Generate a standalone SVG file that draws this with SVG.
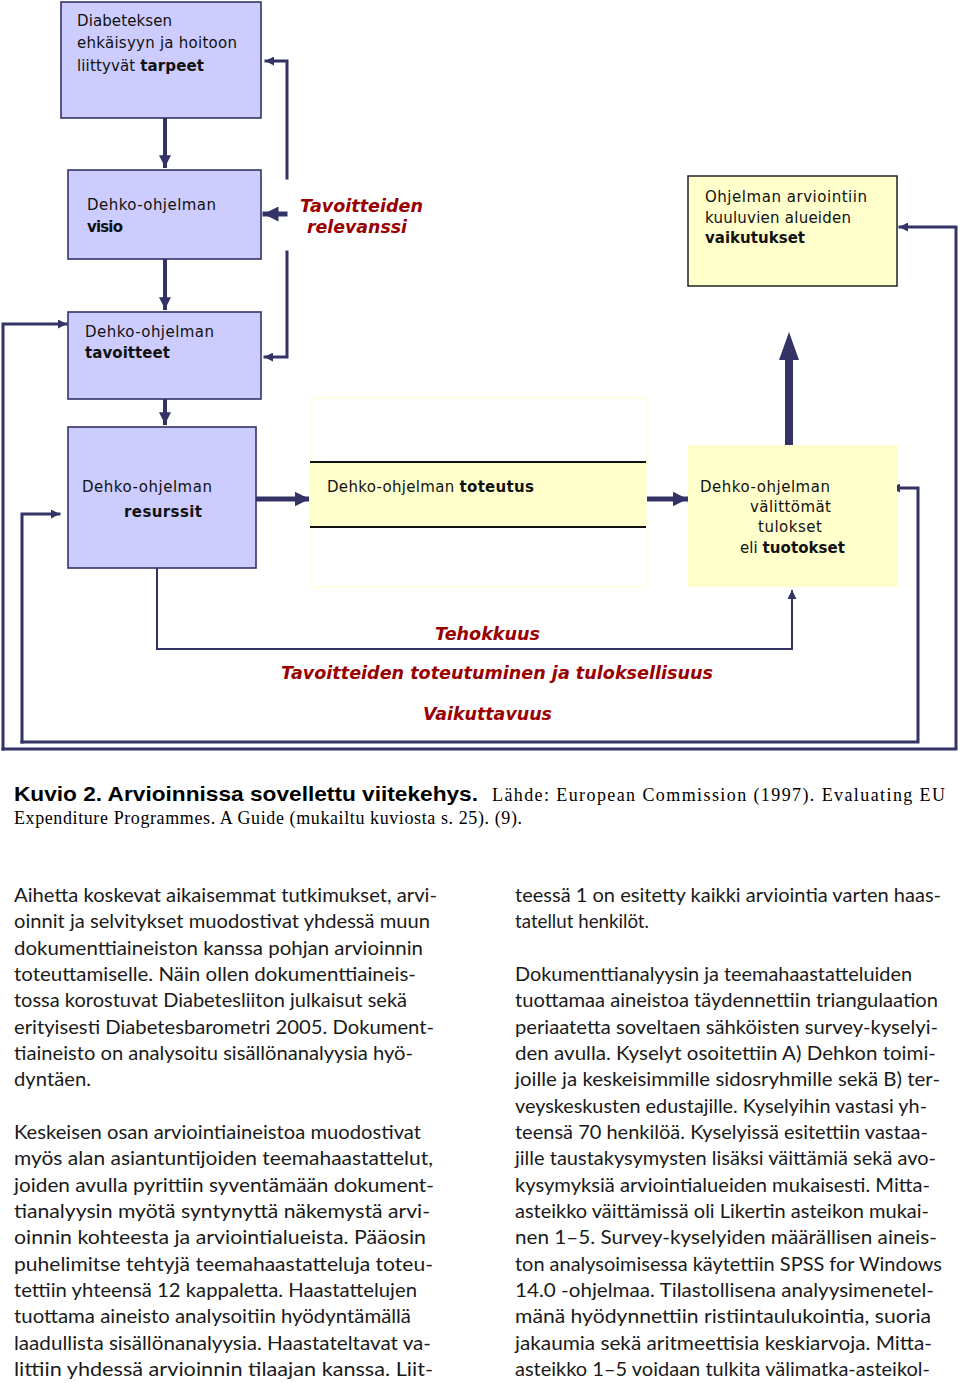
<svg xmlns="http://www.w3.org/2000/svg" width="960" height="1383" viewBox="0 0 960 1383">
<style>
.bx{fill:#ccccff;stroke:#333366;stroke-width:1.6}
.yl{fill:#ffffcc}
.c{fill:none;stroke:#333366;stroke-linecap:square}
.t{font-family:"DejaVu Sans",sans-serif;font-size:15px;fill:#111}
.b{font-weight:bold}
.r{font-family:"DejaVu Sans",sans-serif;font-size:18px;font-style:italic;font-weight:bold;fill:#990000}
.body{font-family:Lato,"Open Sans",sans-serif;font-size:20px;fill:#1a1a1a}
.capb{font-family:"Liberation Sans",Arial,sans-serif;font-size:21px;font-weight:bold;fill:#000}
.caps{font-family:"Liberation Serif","Times New Roman",serif;font-size:18px;fill:#000}
</style>
<defs>
<marker id="ah" viewBox="0 0 10 10" refX="9" refY="5" markerWidth="3" markerHeight="3" orient="auto" markerUnits="strokeWidth">
<path d="M0,0 L10,5 L0,10 z" fill="#333366"/>
</marker>
<marker id="ahs" viewBox="0 0 10 10" refX="9" refY="5" markerWidth="4.5" markerHeight="4.5" orient="auto" markerUnits="strokeWidth">
<path d="M0,0 L10,5 L0,10 z" fill="#333366"/>
</marker>
</defs>

<g id="connectors">
<path class="c" stroke-width="4" d="M165,118 V166" marker-end="url(#ah)"/>
<path class="c" stroke-width="4" d="M165,259 V308" marker-end="url(#ah)"/>
<path class="c" stroke-width="4" d="M165,399 V423" marker-end="url(#ah)"/>
<path class="c" stroke-width="3" d="M287,178 V61 H266" marker-end="url(#ah)"/>
<path class="c" stroke-width="5" d="M285,214 H265" marker-end="url(#ah)"/>
<path class="c" stroke-width="3" d="M287,252 V357 H265" marker-end="url(#ah)"/>
<path class="c" stroke-width="3" d="M3,749 V324 H66" marker-end="url(#ah)"/>
<path class="c" stroke-width="3" d="M22,742 V514 H59" marker-end="url(#ah)"/>
<path class="c" stroke-width="5" d="M256,499 H308" marker-end="url(#ah)"/>
<path class="c" stroke-width="5" d="M646,499 H686" marker-end="url(#ah)"/>
<path class="c" stroke-width="8" stroke-linecap="butt" d="M789,445 V358"/>
<path d="M779,360 L789,332 L799,360 z" fill="#333366"/>
<path class="c" stroke-width="3" d="M22,742 H918 V488 H892" marker-end="url(#ah)"/>
<path class="c" stroke-width="3" d="M3,749 H956 V227 H900" marker-end="url(#ah)"/>
<path class="c" stroke-width="2" d="M157,568 V649 H792 V591" marker-end="url(#ahs)"/>
</g>

<g id="n-tarpeet">
<rect class="bx" x="61" y="2" width="200" height="116"/>
<text class="t" x="77" y="26" textLength="95">Diabeteksen</text>
<text class="t" x="77" y="48" textLength="160">ehkäisyyn ja hoitoon</text>
<text class="t" x="77" y="71" textLength="127">liittyvät <tspan class="b">tarpeet</tspan></text>
</g>

<g id="n-visio">
<rect class="bx" x="68" y="170" width="193" height="89"/>
<text class="t" x="87" y="210" textLength="129">Dehko-ohjelman</text>
<text class="t b" x="87" y="232" textLength="36">visio</text>
</g>

<g id="n-tavoitteet">
<rect class="bx" x="68" y="312" width="193" height="87"/>
<text class="t" x="85" y="337" textLength="129">Dehko-ohjelman</text>
<text class="t b" x="85" y="358" textLength="85">tavoitteet</text>
</g>

<g id="n-resurssit">
<rect class="bx" x="68" y="427" width="188" height="141"/>
<text class="t" x="82" y="492" textLength="130">Dehko-ohjelman</text>
<text class="t b" x="124" y="517" textLength="78">resurssit</text>
</g>

<g id="n-toteutus">
<rect x="310" y="398" width="336" height="189" fill="none" stroke="#ffffe4" stroke-width="2"/>
<rect class="yl" x="310" y="462" width="336" height="65"/>
<path d="M310,462 H646 M310,527 H646" stroke="#111" stroke-width="1.8"/>
<text class="t" x="327" y="492" textLength="207">Dehko-ohjelman <tspan class="b">toteutus</tspan></text>
</g>

<g id="n-tulokset">
<rect class="yl" x="688" y="445" width="209" height="142"/>
<text class="t" x="700" y="492" textLength="130">Dehko-ohjelman</text>
<text class="t" x="750" y="512" textLength="81">välittömät</text>
<text class="t" x="758" y="532" textLength="64">tulokset</text>
<text class="t" x="740" y="553" textLength="105">eli <tspan class="b">tuotokset</tspan></text>
</g>

<g id="n-vaikutukset">
<rect class="yl" x="688" y="176" width="209" height="110" stroke="#222" stroke-width="1.5"/>
<text class="t" x="705" y="202" textLength="162">Ohjelman arviointiin</text>
<text class="t" x="705" y="223" textLength="146">kuuluvien alueiden</text>
<text class="t b" x="705" y="243" textLength="100">vaikutukset</text>
</g>

<g id="labels">
<text class="r" x="300" y="212" textLength="123" lengthAdjust="spacingAndGlyphs">Tavoitteiden</text>
<text class="r" x="307" y="233" textLength="100" lengthAdjust="spacingAndGlyphs">relevanssi</text>
<text class="r" x="435" y="640" textLength="105" lengthAdjust="spacingAndGlyphs">Tehokkuus</text>
<text class="r" x="281" y="679" textLength="432" lengthAdjust="spacingAndGlyphs">Tavoitteiden toteutuminen ja tuloksellisuus</text>
<text class="r" x="423" y="720" textLength="129" lengthAdjust="spacingAndGlyphs">Vaikuttavuus</text>
</g>

<g id="caption">
<text class="capb" x="14" y="801" textLength="464" lengthAdjust="spacingAndGlyphs">Kuvio 2. Arvioinnissa sovellettu viitekehys.</text>
<text class="caps" x="492" y="801" textLength="453">Lähde: European Commission (1997). Evaluating EU</text>
<text class="caps" x="14" y="824" textLength="508">Expenditure Programmes. A Guide (mukailtu kuviosta s. 25). (9).</text>
</g>

<g id="body-left" class="body">
<text x="14" y="902" textLength="423" lengthAdjust="spacingAndGlyphs">Aihetta koskevat aikaisemmat tutkimukset, arvi-</text>
<text x="14" y="928.3" textLength="416" lengthAdjust="spacingAndGlyphs">oinnit ja selvitykset muodostivat yhdessä muun</text>
<text x="14" y="954.7" textLength="409" lengthAdjust="spacingAndGlyphs">dokumenttiaineiston kanssa pohjan arvioinnin</text>
<text x="14" y="981" textLength="402" lengthAdjust="spacingAndGlyphs">toteuttamiselle. Näin ollen dokumenttiaineis-</text>
<text x="14" y="1007.3" textLength="393" lengthAdjust="spacingAndGlyphs">tossa korostuvat Diabetesliiton julkaisut sekä</text>
<text x="14" y="1033.7" textLength="420" lengthAdjust="spacingAndGlyphs">erityisesti Diabetesbarometri 2005. Dokument-</text>
<text x="14" y="1060" textLength="399" lengthAdjust="spacingAndGlyphs">tiaineisto on analysoitu sisällönanalyysia hyö-</text>
<text x="14" y="1086.3" textLength="77" lengthAdjust="spacingAndGlyphs">dyntäen.</text>
<text x="14" y="1139" textLength="407" lengthAdjust="spacingAndGlyphs">Keskeisen osan arviointiaineistoa muodostivat</text>
<text x="14" y="1165.3" textLength="419" lengthAdjust="spacingAndGlyphs">myös alan asiantuntijoiden teemahaastattelut,</text>
<text x="14" y="1191.7" textLength="420" lengthAdjust="spacingAndGlyphs">joiden avulla pyrittiin syventämään dokument-</text>
<text x="14" y="1218" textLength="416" lengthAdjust="spacingAndGlyphs">tianalyysin myötä syntynyttä näkemystä arvi-</text>
<text x="14" y="1244.3" textLength="412" lengthAdjust="spacingAndGlyphs">oinnin kohteesta ja arviointialueista. Pääosin</text>
<text x="14" y="1270.7" textLength="419" lengthAdjust="spacingAndGlyphs">puhelimitse tehtyjä teemahaastatteluja toteu-</text>
<text x="14" y="1297" textLength="403" lengthAdjust="spacingAndGlyphs">tettiin yhteensä 12 kappaletta. Haastattelujen</text>
<text x="14" y="1323.3" textLength="397" lengthAdjust="spacingAndGlyphs">tuottama aineisto analysoitiin hyödyntämällä</text>
<text x="14" y="1349.7" textLength="417" lengthAdjust="spacingAndGlyphs">laadullista sisällönanalyysia. Haastateltavat va-</text>
<text x="14" y="1376" textLength="419" lengthAdjust="spacingAndGlyphs">littiin yhdessä arvioinnin tilaajan kanssa. Liit-</text>
</g>

<g id="body-right" class="body">
<text x="515" y="902" textLength="426" lengthAdjust="spacingAndGlyphs">teessä 1 on esitetty kaikki arviointia varten haas-</text>
<text x="515" y="928.3" textLength="134" lengthAdjust="spacingAndGlyphs">tatellut henkilöt.</text>
<text x="515" y="981" textLength="397" lengthAdjust="spacingAndGlyphs">Dokumenttianalyysin ja teemahaastatteluiden</text>
<text x="515" y="1007.3" textLength="423" lengthAdjust="spacingAndGlyphs">tuottamaa aineistoa täydennettiin triangulaation</text>
<text x="515" y="1033.7" textLength="423" lengthAdjust="spacingAndGlyphs">periaatetta soveltaen sähköisten survey-kyselyi-</text>
<text x="515" y="1060" textLength="421" lengthAdjust="spacingAndGlyphs">den avulla. Kyselyt osoitettiin A) Dehkon toimi-</text>
<text x="515" y="1086.3" textLength="425" lengthAdjust="spacingAndGlyphs">joille ja keskeisimmille sidosryhmille sekä B) ter-</text>
<text x="515" y="1112.7" textLength="412" lengthAdjust="spacingAndGlyphs">veyskeskusten edustajille. Kyselyihin vastasi yh-</text>
<text x="515" y="1139" textLength="413" lengthAdjust="spacingAndGlyphs">teensä 70 henkilöä. Kyselyissä esitettiin vastaa-</text>
<text x="515" y="1165.3" textLength="421" lengthAdjust="spacingAndGlyphs">jille taustakysymysten lisäksi väittämiä sekä avo-</text>
<text x="515" y="1191.7" textLength="415" lengthAdjust="spacingAndGlyphs">kysymyksiä arviointialueiden mukaisesti. Mitta-</text>
<text x="515" y="1218" textLength="414" lengthAdjust="spacingAndGlyphs">asteikko väittämissä oli Likertin asteikon mukai-</text>
<text x="515" y="1244.3" textLength="422" lengthAdjust="spacingAndGlyphs">nen 1–5. Survey-kyselyiden määrällisen aineis-</text>
<text x="515" y="1270.7" textLength="427" lengthAdjust="spacingAndGlyphs">ton analysoimisessa käytettiin SPSS for Windows</text>
<text x="515" y="1297" textLength="419" lengthAdjust="spacingAndGlyphs">14.0 -ohjelmaa. Tilastollisena analyysimenetel-</text>
<text x="515" y="1323.3" textLength="416" lengthAdjust="spacingAndGlyphs">mänä hyödynnettiin ristiintaulukointia, suoria</text>
<text x="515" y="1349.7" textLength="417" lengthAdjust="spacingAndGlyphs">jakaumia sekä aritmeettisia keskiarvoja. Mitta-</text>
<text x="515" y="1376" textLength="415" lengthAdjust="spacingAndGlyphs">asteikko 1–5 voidaan tulkita välimatka-asteikol-</text>
</g>
</svg>
